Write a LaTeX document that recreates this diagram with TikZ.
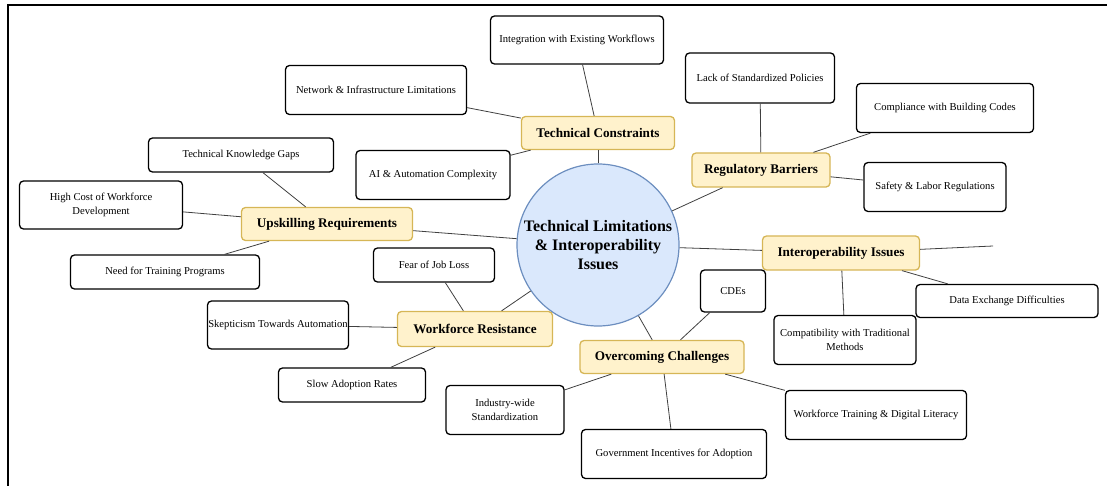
\documentclass[tikz,border=0pt]{standalone}
\usepackage{fontspec}
\setmainfont{Liberation Serif}
\definecolor{topicfill}{HTML}{FFF2CC}
\definecolor{topicline}{HTML}{D6B656}
\definecolor{hubfill}{HTML}{DAE8FC}
\definecolor{hubline}{HTML}{6C8EBF}
\definecolor{linkgray}{HTML}{404040}
\begin{document}
\begin{tikzpicture}[x=1pt,y=-1pt,
  leaf/.style={draw=black, line width=1.3pt, rounded corners=4pt, fill=white,
    align=center, font=\fontsize{10.6}{14}\selectfont, inner sep=0pt},
  topic/.style={draw=topicline, fill=topicfill, line width=1.3pt, rounded corners=4pt,
    align=center, font=\fontsize{13.2}{15}\selectfont\bfseries, inner sep=0pt},
  hub/.style={circle, draw=hubline, fill=hubfill, line width=1.2pt, minimum size=162pt,
    inner sep=0pt, align=center, font=\fontsize{16}{19}\selectfont\bfseries},
  link/.style={draw=linkgray, line width=0.8pt}]
\useasboundingbox (0,0) rectangle (1107,486);
% page frame
\draw[line width=1.8pt] (8,486) -- (8,5) -- (1107,5);

% central hub
\node[hub] (hub) at (598,245) {Technical Limitations\\ \& Interoperability\\ Issues};

% topics
\node[topic, minimum width=153pt, minimum height=33pt] (tech) at (598,133) {Technical Constraints};
\node[topic, minimum width=138pt, minimum height=34pt] (reg) at (761,170) {Regulatory Barriers};
\node[topic, minimum width=157pt, minimum height=34pt] (inter) at (841,253) {Interoperability Issues};
\node[topic, minimum width=164pt, minimum height=33pt] (over) at (662,357) {Overcoming Challenges};
\node[topic, minimum width=155pt, minimum height=35pt] (work) at (475,329) {Workforce Resistance};
\node[topic, minimum width=171pt, minimum height=33pt] (up) at (327,224) {Upskilling Requirements};

% technical constraints leaves
\node[leaf, minimum width=173pt, minimum height=48pt] (integ) at (577,40) {Integration with Existing Workflows};
\node[leaf, minimum width=181pt, minimum height=49pt] (netw) at (376,90) {Network \& Infrastructure Limitations};
\node[leaf, minimum width=154pt, minimum height=49pt] (ai) at (433,175) {AI \& Automation Complexity};

% regulatory leaves
\node[leaf, minimum width=149pt, minimum height=50pt] (lack) at (760,78) {Lack of Standardized Policies};
\node[leaf, minimum width=177pt, minimum height=49pt] (comp) at (945,108) {Compliance with Building Codes};
\node[leaf, minimum width=142pt, minimum height=49pt] (safe) at (935,187) {Safety \& Labor Regulations};

% interoperability leaves
\coordinate (interend) at (993,246);
\node[leaf, minimum width=182pt, minimum height=33pt] (data) at (1007,301) {Data Exchange Difficulties};
\node[leaf, minimum width=142pt, minimum height=49pt] (compat) at (845,340) {Compatibility with Traditional\\Methods};

% overcoming leaves
\node[leaf, minimum width=65pt, minimum height=42pt] (cde) at (733,291) {CDEs};
\node[leaf, minimum width=181pt, minimum height=49pt] (train) at (876,415) {Workforce Training \& Digital Literacy};
\node[leaf, minimum width=185pt, minimum height=49pt] (gov) at (674,454) {Government Incentives for Adoption};
\node[leaf, minimum width=118pt, minimum height=49pt] (ind) at (505,410) {Industry-wide\\Standardization};

% workforce leaves
\node[leaf, minimum width=147pt, minimum height=34pt] (slow) at (352,385) {Slow Adoption Rates};
\node[leaf, minimum width=141pt, minimum height=48pt] (skep) at (278,325) {Skepticism Towards Automation};
\node[leaf, minimum width=121pt, minimum height=34pt] (fear) at (434,265) {Fear of Job Loss};

% upskilling leaves
\node[leaf, minimum width=185pt, minimum height=34pt] (gaps) at (241,155) {Technical Knowledge Gaps};
\node[leaf, minimum width=163pt, minimum height=48pt] (cost) at (101,205) {High Cost of Workforce\\Development};
\node[leaf, minimum width=189pt, minimum height=34pt] (need) at (165,272) {Need for Training Programs};

% connectors
\draw[link] (hub) -- (tech);
\draw[link] (hub) -- (reg);
\draw[link] (hub) -- (inter);
\draw[link] (hub) -- (over);
\draw[link] (hub) -- (work);
\draw[link] (hub) -- (up);

\draw[link] (tech) -- (integ);
\draw[link] (tech) -- (netw);
\draw[link] (tech) -- (ai);

\draw[link] (reg) -- (lack);
\draw[link] (reg) -- (comp);
\draw[link] (reg) -- (safe);

\draw[link] (inter) -- (interend);
\draw[link] (inter) -- (data);
\draw[link] (inter) -- (compat);

\draw[link] (over) -- (cde);
\draw[link] (over) -- (train);
\draw[link] (over) -- (gov);
\draw[link] (over) -- (ind);

\draw[link] (work) -- (slow);
\draw[link] (work) -- (skep);
\draw[link] (work) -- (fear);

\draw[link] (up) -- (gaps);
\draw[link] (up) -- (cost);
\draw[link] (up) -- (need);
\end{tikzpicture}
\end{document}
